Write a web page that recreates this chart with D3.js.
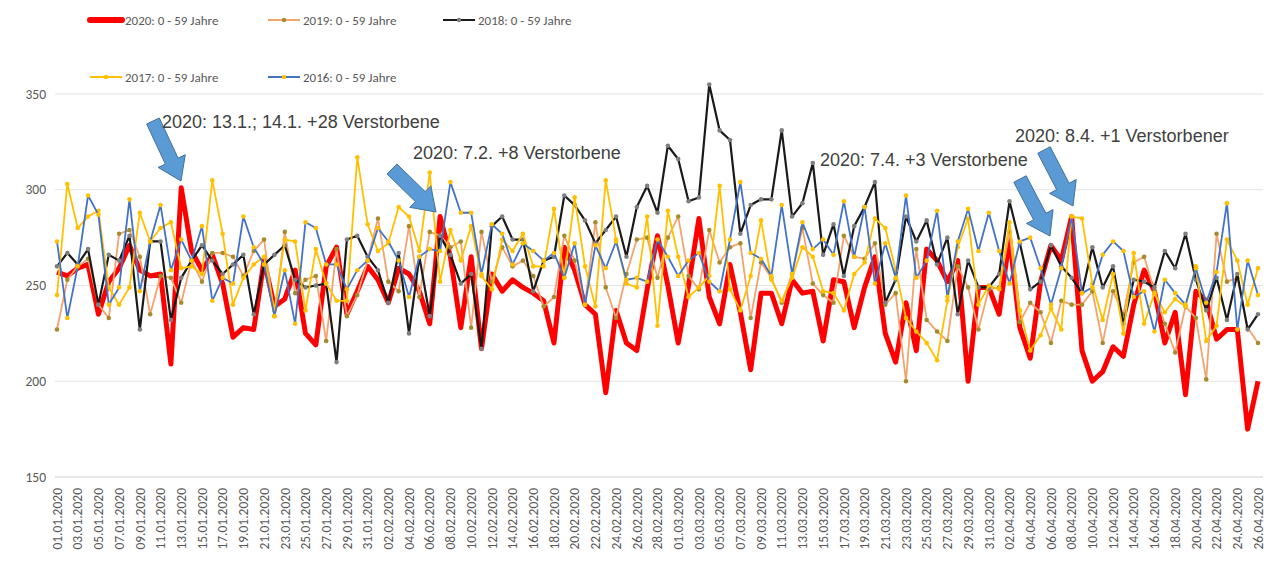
<!DOCTYPE html>
<html>
<head>
<meta charset="utf-8">
<script src="https://cdn.jsdelivr.net/npm/d3@7"></script>
<style>
  body { margin: 0; background: #fff; }
  svg { display: block; font-family: Carlito, Calibri, Lato, "Liberation Sans", sans-serif; }
</style>
</head>
<body>
<div class="chart"></div>
<script>
// categories: 01.01.2020 .. 26.04.2020, daily
var startDate = new Date(2020, 0, 1);
var dayCount = 117;
var yTicks = [150, 200, 250, 300, 350];

var seriesNames = ['2020: 0 - 59 Jahre', '2019: 0 - 59 Jahre', '2018: 0 - 59 Jahre', '2017: 0 - 59 Jahre', '2016: 0 - 59 Jahre'];

var v2020 = [257,255,259,261,235,252,259,271,258,255,256,209,301,268,258,266,251,223,228,227,
  263,239,243,258,225,219,260,270,235,247,260,253,241,259,256,247,230,286,265,228,
  265,217,256,247,253,249,246,242,220,270,258,240,235,194,237,220,216,248,276,250,
  220,250,285,244,230,261,236,206,246,246,230,253,246,247,221,253,252,228,249,265,
  225,210,241,216,269,263,252,263,200,249,249,235,275,228,212,252,271,263,286,216,
  200,205,218,213,240,258,247,220,236,193,247,242,222,227,227,175,200];

var v2019 = [227,253,260,264,240,233,277,279,265,235,255,254,241,263,252,267,267,265,255,268,
  274,234,278,246,253,255,221,269,234,245,263,285,252,247,281,244,278,276,270,273,
  228,278,252,270,260,263,255,239,244,276,263,240,283,249,233,256,274,275,254,275,
  286,255,248,279,262,270,272,233,262,254,241,256,280,251,245,241,276,265,264,272,
  240,246,200,269,232,226,221,260,249,227,248,249,278,231,241,236,220,242,240,240,
  247,220,247,235,262,265,247,230,215,239,233,201,277,252,254,228,220];

var v2018 = [260,267,261,269,240,266,263,276,227,273,273,232,254,263,271,263,256,261,266,235,
  261,266,271,253,249,250,251,210,274,276,265,258,241,267,225,265,234,276,266,251,
  256,217,281,286,274,274,247,263,265,297,292,284,272,279,286,265,291,302,288,323,
  316,294,296,355,331,326,277,292,295,295,331,286,293,314,266,282,255,281,291,304,
  241,253,286,273,284,261,275,235,263,249,249,256,294,272,248,252,271,260,254,246,
  270,249,260,230,253,252,249,268,259,277,253,237,254,232,256,227,235];

var v2017 = [245,303,280,286,289,249,240,249,288,273,280,283,259,260,256,305,277,240,254,261,
  265,237,274,273,237,269,251,242,242,317,282,268,272,291,286,268,309,252,279,263,
  281,255,248,274,268,277,260,260,290,254,296,260,239,305,274,251,249,286,229,289,
  265,244,249,255,302,248,237,255,284,253,242,254,270,265,247,246,237,256,262,285,
  280,258,233,226,220,211,242,270,285,240,250,248,283,237,216,224,238,227,286,285,
  251,232,256,225,267,230,246,236,243,239,260,221,229,274,263,240,259];

var v2016 = [273,233,260,297,287,240,249,295,247,273,292,258,274,263,281,242,254,251,286,270,
  261,234,258,230,283,280,261,261,248,258,263,280,273,263,244,265,269,268,304,288,
  288,256,282,277,261,272,268,263,267,254,272,240,271,259,273,253,254,252,274,265,
  255,263,267,252,247,274,304,267,264,255,292,256,283,269,274,266,294,265,291,251,
  272,254,297,254,263,289,244,273,290,268,288,268,251,273,275,259,240,259,286,246,
  249,266,273,268,244,247,226,253,246,240,259,241,257,293,227,263,245];

var annoTexts = ['2020: 13.1.; 14.1. +28 Verstorbene', '2020: 7.2. +8 Verstorbene', '2020: 7.4. +3 Verstorbene', '2020: 8.4. +1 Verstorbener'];

var fmt = d3.timeFormat('%d.%m.%Y');
var dates = d3.range(dayCount).map(function(i) { return fmt(d3.timeDay.offset(startDate, i)); });

var W = 1270, H = 563;
var svg = d3.select('.chart').append('svg').attr('width', W).attr('height', H);

var x = d3.scalePoint().domain(dates).range([57, 1258]);
var y = d3.scaleLinear().domain([150, 350]).range([477, 94]);

// gridlines + y labels
svg.append('g').selectAll('line')
  .data(yTicks)
  .enter().append('line')
  .attr('x1', 55).attr('x2', 1263)
  .attr('y1', function(d) { return y(d); })
  .attr('y2', function(d) { return y(d); })
  .attr('stroke', function(d) { return d === 150 ? '#d0d0d0' : '#e3e3e3'; })
  .attr('stroke-width', 1.2);

svg.append('g').selectAll('text')
  .data(yTicks)
  .enter().append('text')
  .attr('x', 46)
  .attr('y', function(d) { return y(d); })
  .attr('dy', '0.35em')
  .attr('text-anchor', 'end')
  .attr('font-size', 13.5)
  .attr('fill', '#595959')
  .text(function(d) { return d; });

// x labels every second day
svg.append('g').selectAll('text')
  .data(dates.filter(function(d, i) { return i % 2 === 0; }))
  .enter().append('text')
  .attr('transform', function(d) { return 'translate(' + x(d) + ',488) rotate(-90)'; })
  .attr('dy', '0.35em')
  .attr('text-anchor', 'end')
  .attr('font-size', 13.5)
  .attr('fill', '#595959')
  .text(function(d) { return d; });

var series = [
  { name: seriesNames[0], values: v2020, color: '#ff0000', width: 5, marker: null },
  { name: seriesNames[1], values: v2019, color: '#f2a46e', width: 1.8, marker: '#a68b2c' },
  { name: seriesNames[2], values: v2018, color: '#1a1a1a', width: 2.2, marker: '#7f7f7f' },
  { name: seriesNames[3], values: v2017, color: '#ffc000', width: 1.8, marker: '#ffc000' },
  { name: seriesNames[4], values: v2016, color: '#4472c4', width: 1.8, marker: '#ffc000' }
];

var line = d3.line()
  .x(function(d, i) { return x(dates[i]); })
  .y(function(d) { return y(d); });

series.forEach(function(s) {
  svg.append('path')
    .datum(s.values)
    .attr('d', line)
    .attr('fill', 'none')
    .attr('stroke', s.color)
    .attr('stroke-width', s.width)
    .attr('stroke-linejoin', 'round');
  if (s.marker) {
    svg.append('g').selectAll('circle')
      .data(s.values)
      .enter().append('circle')
      .attr('cx', function(d, i) { return x(dates[i]); })
      .attr('cy', function(d) { return y(d); })
      .attr('r', 2.3)
      .attr('fill', s.marker);
  }
});

// legend
var legendPos = [[90, 20], [268, 20], [443, 20], [90, 77], [268, 77]];
series.forEach(function(s, i) {
  var p = legendPos[i];
  var g = svg.append('g').attr('transform', 'translate(' + p[0] + ',' + p[1] + ')');
  g.append('line').attr('x1', 0).attr('x2', 32).attr('y1', 0).attr('y2', 0)
    .attr('stroke', s.color).attr('stroke-width', s.width === 5 ? 6 : 2)
    .attr('stroke-linecap', s.width === 5 ? 'round' : 'butt');
  if (s.marker) g.append('circle').attr('cx', 16).attr('cy', 0).attr('r', 2.2).attr('fill', s.marker);
  g.append('text').attr('x', 35).attr('y', 0).attr('dy', '0.35em')
    .attr('font-size', 13).attr('fill', '#595959').text(s.name);
});

// annotation arrows (tail centre -> tip)
var arrows = [
  { from: [153, 121], to: [181, 181] },
  { from: [392, 169], to: [436, 212] },
  { from: [1020, 179], to: [1050, 236] },
  { from: [1044, 150], to: [1073, 206] }
];
function arrowPath(a) {
  var dx = a.to[0] - a.from[0], dy = a.to[1] - a.from[1];
  var len = Math.sqrt(dx * dx + dy * dy);
  var ux = dx / len, uy = dy / len, nx = -uy, ny = ux;
  var sw = 7, hw = 15, hl = 22;
  var bx = a.to[0] - ux * hl, by = a.to[1] - uy * hl;
  var pts = [
    [a.from[0] + nx * sw, a.from[1] + ny * sw],
    [bx + nx * sw, by + ny * sw],
    [bx + nx * hw, by + ny * hw],
    a.to,
    [bx - nx * hw, by - ny * hw],
    [bx - nx * sw, by - ny * sw],
    [a.from[0] - nx * sw, a.from[1] - ny * sw]
  ];
  return 'M' + pts.map(function(p) { return p.join(','); }).join('L') + 'Z';
}
svg.append('g').selectAll('path')
  .data(arrows)
  .enter().append('path')
  .attr('d', arrowPath)
  .attr('fill', '#5b9bd5')
  .attr('stroke', '#41719c')
  .attr('stroke-width', 1);

var annoPos = [[162, 128], [413, 159], [820, 166], [1015, 142]];
svg.append('g').selectAll('text')
  .data(annoTexts)
  .enter().append('text')
  .attr('x', function(d, i) { return annoPos[i][0]; })
  .attr('y', function(d, i) { return annoPos[i][1]; })
  .attr('font-family', '"Liberation Sans", Arial, sans-serif')
  .attr('font-size', 18)
  .attr('fill', '#404040')
  .text(function(d) { return d; });
</script>
</body>
</html>
